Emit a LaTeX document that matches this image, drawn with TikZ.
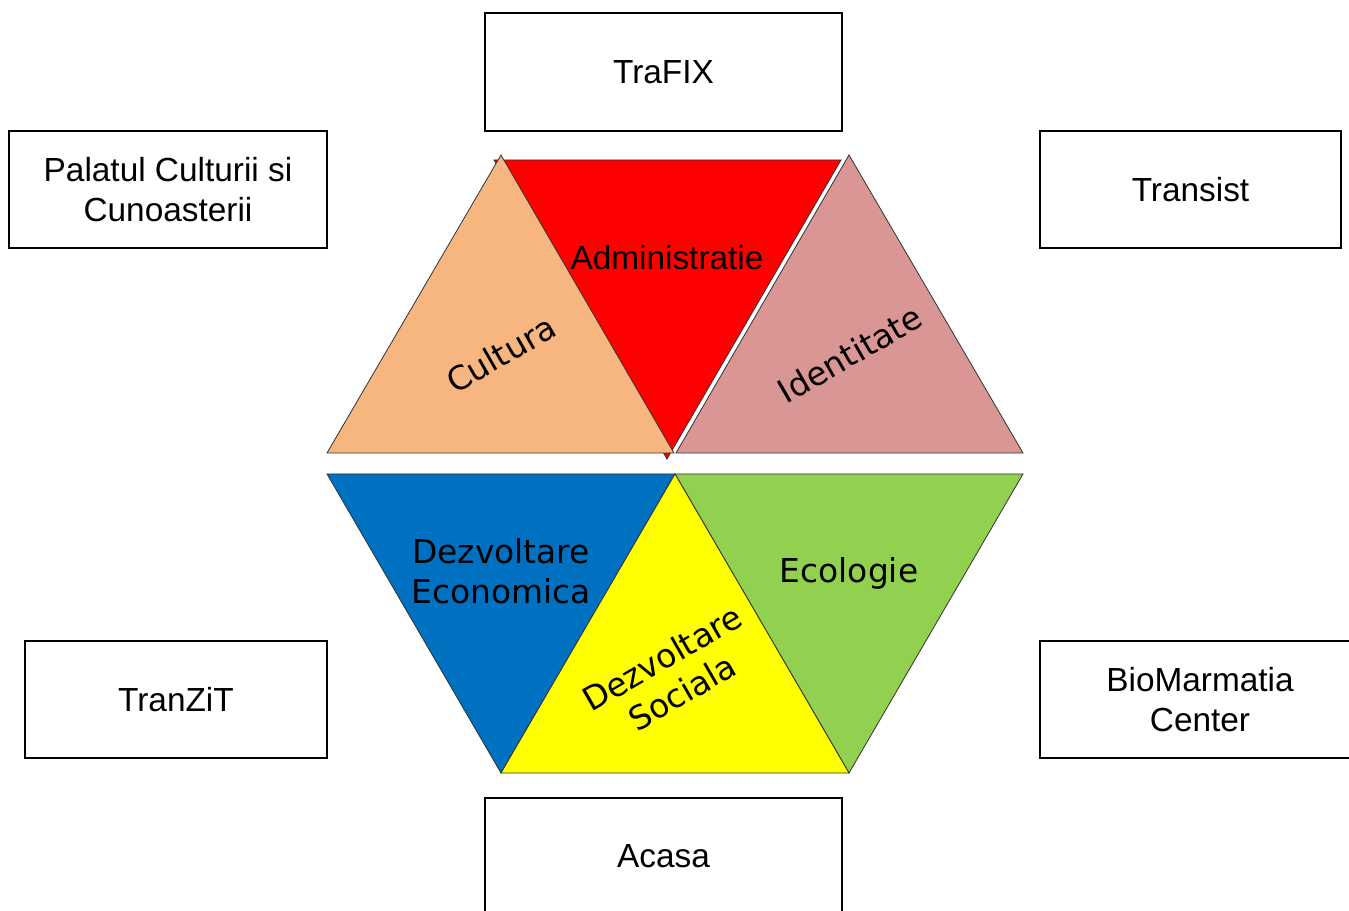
\documentclass[tikz,border=0pt]{standalone}
\usepackage{fontspec}
\setmainfont{Liberation Sans}
\newfontfamily\dvfont{DejaVu Sans}
\definecolor{peach}{HTML}{F7B67F}
\definecolor{rosy}{HTML}{D99694}
\definecolor{blueeco}{HTML}{0070C0}
\definecolor{greeneco}{HTML}{92D050}
\definecolor{redadm}{HTML}{FF0000}
\definecolor{yellowsoc}{HTML}{FFFF00}
\definecolor{edge}{HTML}{303030}
\begin{document}
\begin{tikzpicture}[x=0.02cm,y=-0.02cm,
  box/.style={draw=black,line width=0.9pt,fill=white,inner sep=0pt,align=center,
    font=\fontsize{19}{22.7}\selectfont},
  tri/.style={draw=edge,line width=0.45pt},
  lab/.style={inner sep=0pt,align=center,font=\dvfont\fontsize{18.7}{22.5}\selectfont},
  labs/.style={inner sep=0pt,align=center,font=\fontsize{19}{22.7}\selectfont}]
\useasboundingbox (0,0) rectangle (1349,911);
% boxes
\node[box,minimum width=357*0.02cm,minimum height=118*0.02cm] (trafix) at (663.5,72) {TraFIX};
\node[box,minimum width=318*0.02cm,minimum height=117*0.02cm] (palatul) at (168,189.5) {Palatul Culturii si\\Cunoasterii};
\node[box,minimum width=301*0.02cm,minimum height=117*0.02cm] (transist) at (1190.5,189.5) {Transist};
\node[box,minimum width=302*0.02cm,minimum height=117*0.02cm] (tranzit) at (176,699.5) {TranZiT};
\node[box,minimum width=320*0.02cm,minimum height=117*0.02cm] (biomar) at (1200,699.5) {BioMarmatia\\Center};
\node[box,minimum width=357*0.02cm,minimum height=130*0.02cm] (acasa) at (663.5,863) {};
\node[labs] (acasatxt) at (663.5,856) {Acasa};
% upper triangles
\path[tri,fill=redadm] (494,160) -- (841,160) -- (667,459) -- cycle;
\path[tri,fill=peach] (501,155) -- (674,453) -- (327,453) -- cycle;
\path[tri,fill=rosy] (849,155) -- (1023,453) -- (676,453) -- cycle;
% lower triangles
\path[tri,fill=blueeco] (327,474) -- (675,474) -- (501,773) -- cycle;
\path[tri,fill=greeneco] (675,474) -- (1023,474) -- (849,773) -- cycle;
\path[tri,fill=yellowsoc] (675,474) -- (849,773) -- (501,773) -- cycle;
% labels
\node[labs,anchor=base] (adm) at (667,270) {Administratie};
\node[lab,rotate=30] (cult) at (501,354) {Cultura};
\node[lab,rotate=30] (ident) at (850,354) {Identitate};
\node[lab] (deco) at (501,571) {Dezvoltare\\Economica};
\node[lab,anchor=base] (eco) at (849,583) {Ecologie};
\node[lab,rotate=30] (dsoc) at (672,675) {Dezvoltare\\Sociala};
\end{tikzpicture}
\end{document}
